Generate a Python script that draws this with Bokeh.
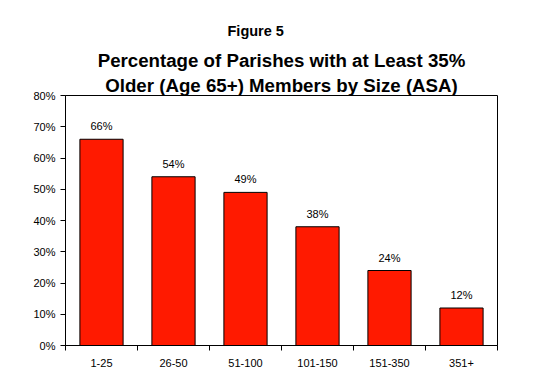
from bokeh.plotting import figure
from bokeh.models import Title, FixedTicker, ColumnDataSource, LabelSet, Range1d
from bokeh.core.properties import value
from bokeh.embed import file_html
from bokeh.resources import INLINE

categories = ["1-25", "26-50", "51-100", "101-150", "151-350", "351+"]
values = [66, 54, 49, 38, 24, 12]
y_ticks = [0, 10, 20, 30, 40, 50, 60, 70, 80]
title_lines = ["Percentage of Parishes with at Least 35%", "Older (Age 65+) Members by Size (ASA)"]

FONT = "Liberation Sans"

xs = [i + 0.5 for i in range(len(categories))]
src = ColumnDataSource(dict(x=xs, top=values, lab=[f"{v}%" for v in values]))

p = figure(width=520, height=370, output_backend="svg", toolbar_location=None,
           x_range=Range1d(0, len(categories)), y_range=Range1d(0, 80),
           min_border_left=65, min_border_right=23, min_border_bottom=25, min_border_top=95)
p.title.text = ""
p.outline_line_color = "black"
p.outline_line_width = 1
p.outline_line_alpha = 1
p.grid.visible = False
p.background_fill_color = "white"

p.vbar(x="x", top="top", width=0.6, source=src, fill_color="#FF1A00", line_color="black", line_width=1)

labels = LabelSet(x="x", y="top", text="lab", source=src, text_align="center", text_baseline="bottom",
                  y_offset=7, text_font=value(FONT), text_font_size=value("11px"), text_color="black")
p.add_layout(labels)

p.xaxis.ticker = FixedTicker(ticks=xs, minor_ticks=list(range(len(categories) + 1)))
p.xaxis.major_label_overrides = {x: c for x, c in zip(xs, categories)}
p.xaxis.major_tick_out = 0
p.xaxis.major_tick_in = 0
p.xaxis.minor_tick_out = 5
p.xaxis.minor_tick_in = 0
p.xaxis.major_label_standoff = 8

p.yaxis.ticker = FixedTicker(ticks=y_ticks)
p.yaxis.major_label_overrides = {t: f"{t}%" for t in y_ticks}
p.yaxis.major_tick_out = 5
p.yaxis.major_tick_in = 0
p.yaxis.minor_tick_out = 0
p.yaxis.minor_tick_in = 0
p.yaxis.major_label_standoff = 5

for ax in (p.xaxis, p.yaxis):
    ax.axis_line_color = "black"
    ax.major_tick_line_color = "black"
    ax.minor_tick_line_color = "black"
    ax.major_label_text_font = FONT
    ax.major_label_text_font_size = "11px"
    ax.major_label_text_color = "black"

p.add_layout(Title(text=title_lines[1], align="center", text_font=FONT, vertical_align="bottom",
                   text_font_size="18.7px", text_font_style="bold", text_color="black", standoff=0), "above")
p.add_layout(Title(text=title_lines[0], align="center", text_font=FONT, vertical_align="bottom",
                   text_font_size="18.7px", text_font_style="bold", text_color="black", standoff=4), "above")
p.add_layout(Title(text="Figure 5", align="left", offset=162, text_font=FONT, vertical_align="top",
                   text_font_size="14.5px", text_font_style="bold", text_color="black", standoff=10), "above")

open("out.html", "w").write(file_html(p, INLINE))
